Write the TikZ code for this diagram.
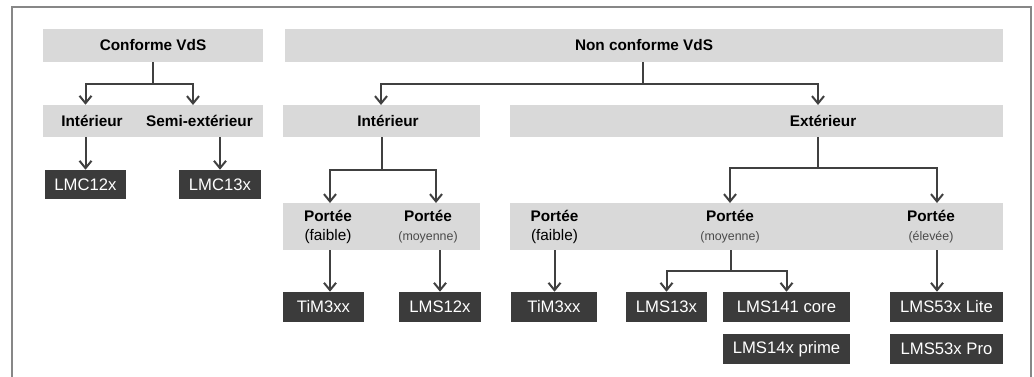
\documentclass[tikz,border=0pt]{standalone}
\usepackage{fontspec}
\setmainfont{Liberation Sans}
\usetikzlibrary{arrows.meta,positioning,calc}
\definecolor{boxgray}{HTML}{D9D9D9}
\definecolor{boxdark}{HTML}{3B3B3B}
\definecolor{linegray}{HTML}{404040}
\definecolor{framegray}{HTML}{878787}
\definecolor{subgray}{HTML}{4A4A4A}
\newcommand\smallsub[1]{{\mdseries\fontsize{9.3}{14.25}\selectfont\color{subgray}#1}}

\begin{document}
\begin{tikzpicture}[x=0.75pt,y=-0.75pt,
  graybox/.style={shape=rectangle,fill=boxgray,inner sep=0pt},
  darkbox/.style={shape=rectangle,fill=boxdark,text=white,inner sep=0pt,font=\fontsize{12.5}{14}\selectfont},
  rowtext/.style={align=center,inner sep=0pt,font=\fontsize{11.5}{14.25}\selectfont\bfseries},
  link/.style={draw=linegray,line width=1.5pt},
  arr/.style={link,-{Straight Barb[length=5.5pt,width=9pt]}}]
\useasboundingbox (0,0) rectangle (1034,376);
\draw[framegray,line width=1.6pt] (12,400) -- (12,7) -- (1031,7) -- (1031,400);

\node[graybox,minimum width=165pt,minimum height=24.75pt,rowtext] (conf) at (153,45.5) {Conforme VdS};
\node[graybox,minimum width=538.5pt,minimum height=24.75pt,rowtext] (nonconf) at (644,45.5) {Non conforme VdS};

\node[graybox,minimum width=165pt,minimum height=24pt] (boxA) at (153,121) {};
\node[graybox,minimum width=147.75pt,minimum height=24pt] (boxB) at (381.5,121) {};
\node[graybox,minimum width=369.75pt,minimum height=24pt] (boxC) at (756.5,121) {};
\node[rowtext] (intA) at (92,121) {Intérieur};
\node[rowtext] (semi) at (199.5,121) {Semi-extérieur};
\node[rowtext] (intB) at (388,121) {Intérieur};
\node[rowtext] (ext) at (823,121) {Extérieur};

\node[graybox,minimum width=147.75pt,minimum height=35.25pt] (boxD) at (381.5,226.5) {};
\node[graybox,minimum width=369.75pt,minimum height=35.25pt] (boxE) at (756.5,226.5) {};
\node[rowtext] (portDf) at (328,226.5) {Portée\\{\mdseries (faible)}};
\node[rowtext] (portDm) at (428,226.5) {Portée\\\smallsub{(moyenne)}};
\node[rowtext] (portEf) at (554.5,226.5) {Portée\\{\mdseries (faible)}};
\node[rowtext] (portEm) at (730,226.5) {Portée\\\smallsub{(moyenne)}};
\node[rowtext] (portEe) at (931,226.5) {Portée\\\smallsub{(élevée)}};

\node[darkbox,minimum width=60.75pt,minimum height=21.75pt] (lmc12) at (85.5,184.5) {LMC12x};
\node[darkbox,minimum width=61.5pt,minimum height=21.75pt] (lmc13) at (220,184.5) {LMC13x};
\node[darkbox,minimum width=60.75pt,minimum height=22.5pt] (timA) at (323.5,307) {TiM3xx};
\node[darkbox,minimum width=61.5pt,minimum height=22.5pt] (lms12) at (440,307) {LMS12x};
\node[darkbox,minimum width=64.5pt,minimum height=22.5pt] (timB) at (554,307) {TiM3xx};
\node[darkbox,minimum width=60.75pt,minimum height=22.5pt] (lms13) at (666.5,307) {LMS13x};
\node[darkbox,minimum width=95.25pt,minimum height=22.5pt] (lms141) at (786.5,307) {LMS141 core};
\node[darkbox,minimum width=95.25pt,minimum height=22.5pt] (lms14) at (786.5,349) {LMS14x prime};
\node[darkbox,minimum width=84.75pt,minimum height=22.5pt] (lms53l) at (946.5,307) {LMS53x Lite};
\node[darkbox,minimum width=84.75pt,minimum height=22.5pt] (lms53p) at (946.5,349) {LMS53x Pro};

\coordinate (t1) at (153,84);
\coordinate (t2) at (643,84);
\coordinate (t3) at (382,170);
\coordinate (t4) at (818,168);
\coordinate (t5) at (731,271);
\coordinate (pA) at (193,105);
\coordinate (pB) at (381,105);
\coordinate (pC) at (818,105);
\coordinate (pD1) at (330,203);
\coordinate (pD2) at (436,203);
\coordinate (pE1) at (730,203);
\coordinate (pE2) at (937,203);

\draw [link] (conf.south -| t1) -- (t1);
\draw [arr] (t1) -| (boxA.north -| lmc12);
\draw [arr] (t1) -| (pA);
\draw [link] (nonconf.south -| t2) -- (t2);
\draw [arr] (t2) -| (pB);
\draw [arr] (t2) -| (pC);

\draw [arr] (boxA.south -| lmc12) -- (lmc12);
\draw [arr] (boxA.south -| lmc13) -- (lmc13);
\draw [link] (boxB.south -| t3) -- (t3);
\draw [arr] (t3) -| (pD1);
\draw [arr] (t3) -| (pD2);
\draw [link] (boxC.south -| t4) -- (t4);
\draw [arr] (t4) -| (pE1);
\draw [arr] (t4) -| (pE2);

\draw [arr] (boxD.south -| pD1) -- (timA.north -| pD1);
\draw [arr] (boxD.south -| lms12) -- (lms12);
\draw [arr] (boxE.south -| portEf) -- (timB.north -| portEf);
\draw [link] (boxE.south -| t5) -- (t5);
\draw [arr] (t5) -| (lms13);
\draw [arr] (t5) -| (lms141);
\draw [arr] (boxE.south -| pE2) -- (lms53l.north -| pE2);
\end{tikzpicture}
\end{document}
